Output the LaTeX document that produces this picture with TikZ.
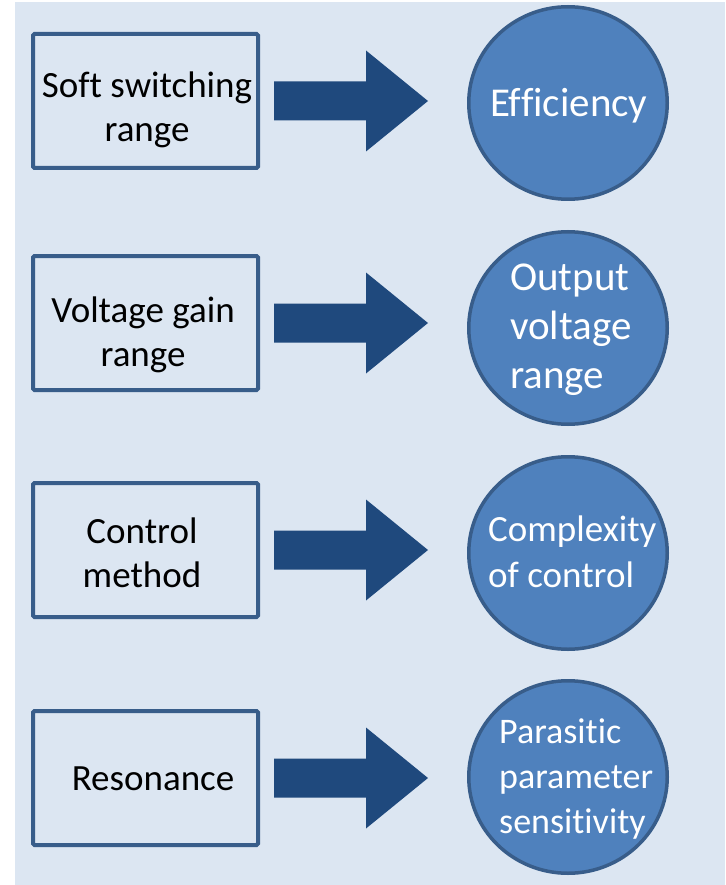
\documentclass[tikz,border=0pt]{standalone}
\usepackage{fontspec}
\setmainfont{Carlito}[Ligatures=NoCommon]
\usetikzlibrary{shapes.geometric,calc}
\definecolor{panel}{HTML}{DCE6F2}
\definecolor{frame}{HTML}{385D8A}
\definecolor{arrowblue}{HTML}{1F497D}
\definecolor{bubble}{HTML}{4F81BD}

\begin{document}
\begin{tikzpicture}[x=1pt,y=-1pt,
  factor/.style={draw=frame, line width=4pt, rounded corners=1.5pt,
    minimum width=225pt, minimum height=134pt, inner sep=0pt},
  outcome/.style={ellipse, draw=frame, fill=bubble, line width=3.5pt,
    minimum width=198.5pt, minimum height=192.5pt, inner sep=0pt},
  boxtext/.style={font=\fontsize{37}{44}\selectfont, align=center,
    inner sep=0pt, anchor=base},
  bubbletext/.style={text=white, align=left, inner sep=0pt, anchor=base west},
  blockarrow/.style={fill=arrowblue}]

\useasboundingbox (0,0) rectangle (725,885);
\fill[panel] (15,2) rectangle (725,885);

% left column: factors
\node[factor] (b1) at (145.5,101) {};
\node[factor] (b2) at (145.5,323) {};
\node[factor] (b3) at (145.5,550) {};
\node[factor] (b4) at (145.5,778) {};

% right column: outcomes
\node[outcome] (c1) at (568,103) {};
\node[outcome] (c2) at (568,328) {};
\node[outcome] (c3) at (568,553) {};
\node[outcome] (c4) at (568,777) {};

% block arrows from each factor to its outcome
\foreach \i in {1,2,3,4} {
  \path (b\i.east -| c\i.west) coordinate (rim\i);
  \fill[blockarrow] ($(b\i.east)+(14,-19.5)$) -- ($(b\i.east)+(106,-19.5)$)
    -- ($(b\i.east)+(106,-50.5)$) -- ($(rim\i)+(-39,0)$)
    -- ($(b\i.east)+(106,50.5)$) -- ($(b\i.east)+(106,19.5)$)
    -- ($(b\i.east)+(14,19.5)$) -- cycle;
}

% factor labels (placed by the baseline of their last line)
\node[boxtext] (l1) at (147,142) {Soft switching\\range};
\node[boxtext] (l2) at (143,366) {Voltage gain\\range};
\node[boxtext] (l3) at (142,587) {Control\\method};
\node[boxtext] (l4) at (153,790) {Resonance};

% outcome labels
\node[bubbletext, font=\fontsize{41}{49}\selectfont] (o1) at (490,117) {Efficiency};
\node[bubbletext, font=\fontsize{41}{49}\selectfont] (o2) at (510,388) {Output\\voltage\\range};
\node[bubbletext, font=\fontsize{37}{46}\selectfont] (o3) at (488,587) {Complexity\\of control};
\node[bubbletext, font=\fontsize{36}{45}\selectfont] (o4) at (499,833) {Parasitic\\parameter\\sensitivity};
\end{tikzpicture}
\end{document}
